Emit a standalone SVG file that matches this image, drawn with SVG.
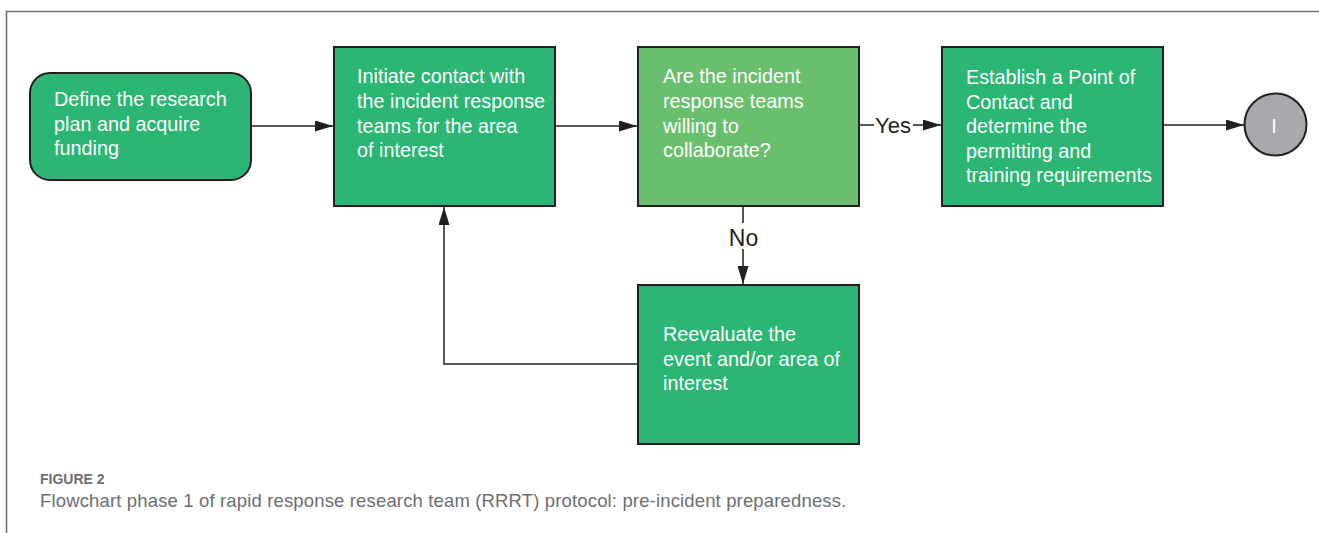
<svg xmlns="http://www.w3.org/2000/svg" width="1319" height="533" viewBox="0 0 1319 533">
<style>
.box{fill:#2bb673;stroke:#231f20;stroke-width:2}
.box2{fill:#6abf6e;stroke:#231f20;stroke-width:2}
.t{font-family:"Liberation Sans",Arial,sans-serif;font-size:19.8px;fill:#ffffff}
.lbl{font-family:"Liberation Sans",Arial,sans-serif;fill:#231f20}
.ln{fill:none;stroke:#231f20;stroke-width:1.5}
.cap{font-family:"Liberation Sans",Arial,sans-serif;fill:#6d6e71}
</style>
<defs>
<marker id="ah" markerUnits="userSpaceOnUse" markerWidth="18" markerHeight="11" refX="18" refY="5.5" orient="auto">
<path d="M0,0 L18,5.5 L0,11 z" fill="#231f20"/>
</marker>
</defs>
<rect width="1319" height="533" fill="#ffffff"/>
<path d="M6.5,533 V11.5 H1319" fill="none" stroke="#707070" stroke-width="1.6"/>

<g id="connectors">
<path class="ln" d="M251,126 H333" marker-end="url(#ah)"/>
<path class="ln" d="M555,126 H637" marker-end="url(#ah)"/>
<path class="ln" d="M859,125 H874"/>
<text class="lbl" x="875" y="133" font-size="22">Yes</text>
<path class="ln" d="M913,125 H941" marker-end="url(#ah)"/>
<path class="ln" d="M1163,125 H1244" marker-end="url(#ah)"/>
<path class="ln" d="M743,207 V223"/>
<text class="lbl" x="743.5" y="246" font-size="23" text-anchor="middle">No</text>
<path class="ln" d="M743,249 V284" marker-end="url(#ah)"/>
<path class="ln" d="M638,364 H444 V207" marker-end="url(#ah)"/>
</g>

<g id="n1">
<rect class="box" x="30" y="73" width="221" height="107" rx="20" ry="20"/>
<text class="t" x="54" y="106">Define the research</text>
<text class="t" x="54" y="130.5">plan and acquire</text>
<text class="t" x="54" y="155">funding</text>
</g>

<g id="n2">
<rect class="box" x="334" y="47" width="221" height="159"/>
<text class="t" x="357" y="83">Initiate contact with</text>
<text class="t" x="357" y="108">the incident response</text>
<text class="t" x="357" y="132.5">teams for the area</text>
<text class="t" x="357" y="157">of interest</text>
</g>

<g id="n3">
<rect class="box2" x="638" y="47" width="221" height="159"/>
<text class="t" x="663" y="83">Are the incident</text>
<text class="t" x="663" y="108">response teams</text>
<text class="t" x="663" y="132.5">willing to</text>
<text class="t" x="663" y="157">collaborate?</text>
</g>

<g id="n4">
<rect class="box" x="942" y="47" width="221" height="159"/>
<text class="t" x="966" y="84">Establish a Point of</text>
<text class="t" x="966" y="108.5">Contact and</text>
<text class="t" x="966" y="133">determine the</text>
<text class="t" x="966" y="157.5">permitting and</text>
<text class="t" x="966" y="182">training requirements</text>
</g>

<g id="n5">
<rect class="box" x="638" y="285" width="221" height="159"/>
<text class="t" x="663" y="341">Reevaluate the</text>
<text class="t" x="663" y="365.5">event and/or area of</text>
<text class="t" x="663" y="390">interest</text>
</g>

<g id="n6">
<circle cx="1275.5" cy="124.5" r="31" fill="#a7a9ac" stroke="#231f20" stroke-width="2"/>
<text x="1274" y="133" font-family="Liberation Sans, Arial, sans-serif" font-size="20" fill="#ffffff" text-anchor="middle">I</text>
</g>

<g id="caption">
<text class="cap" x="40" y="484" font-size="14" font-weight="bold" fill="#58595b">FIGURE 2</text>
<text class="cap" x="40" y="507" font-size="18.5" letter-spacing="0.15">Flowchart phase 1 of rapid response research team (RRRT) protocol: pre-incident preparedness.</text>
</g>
</svg>
